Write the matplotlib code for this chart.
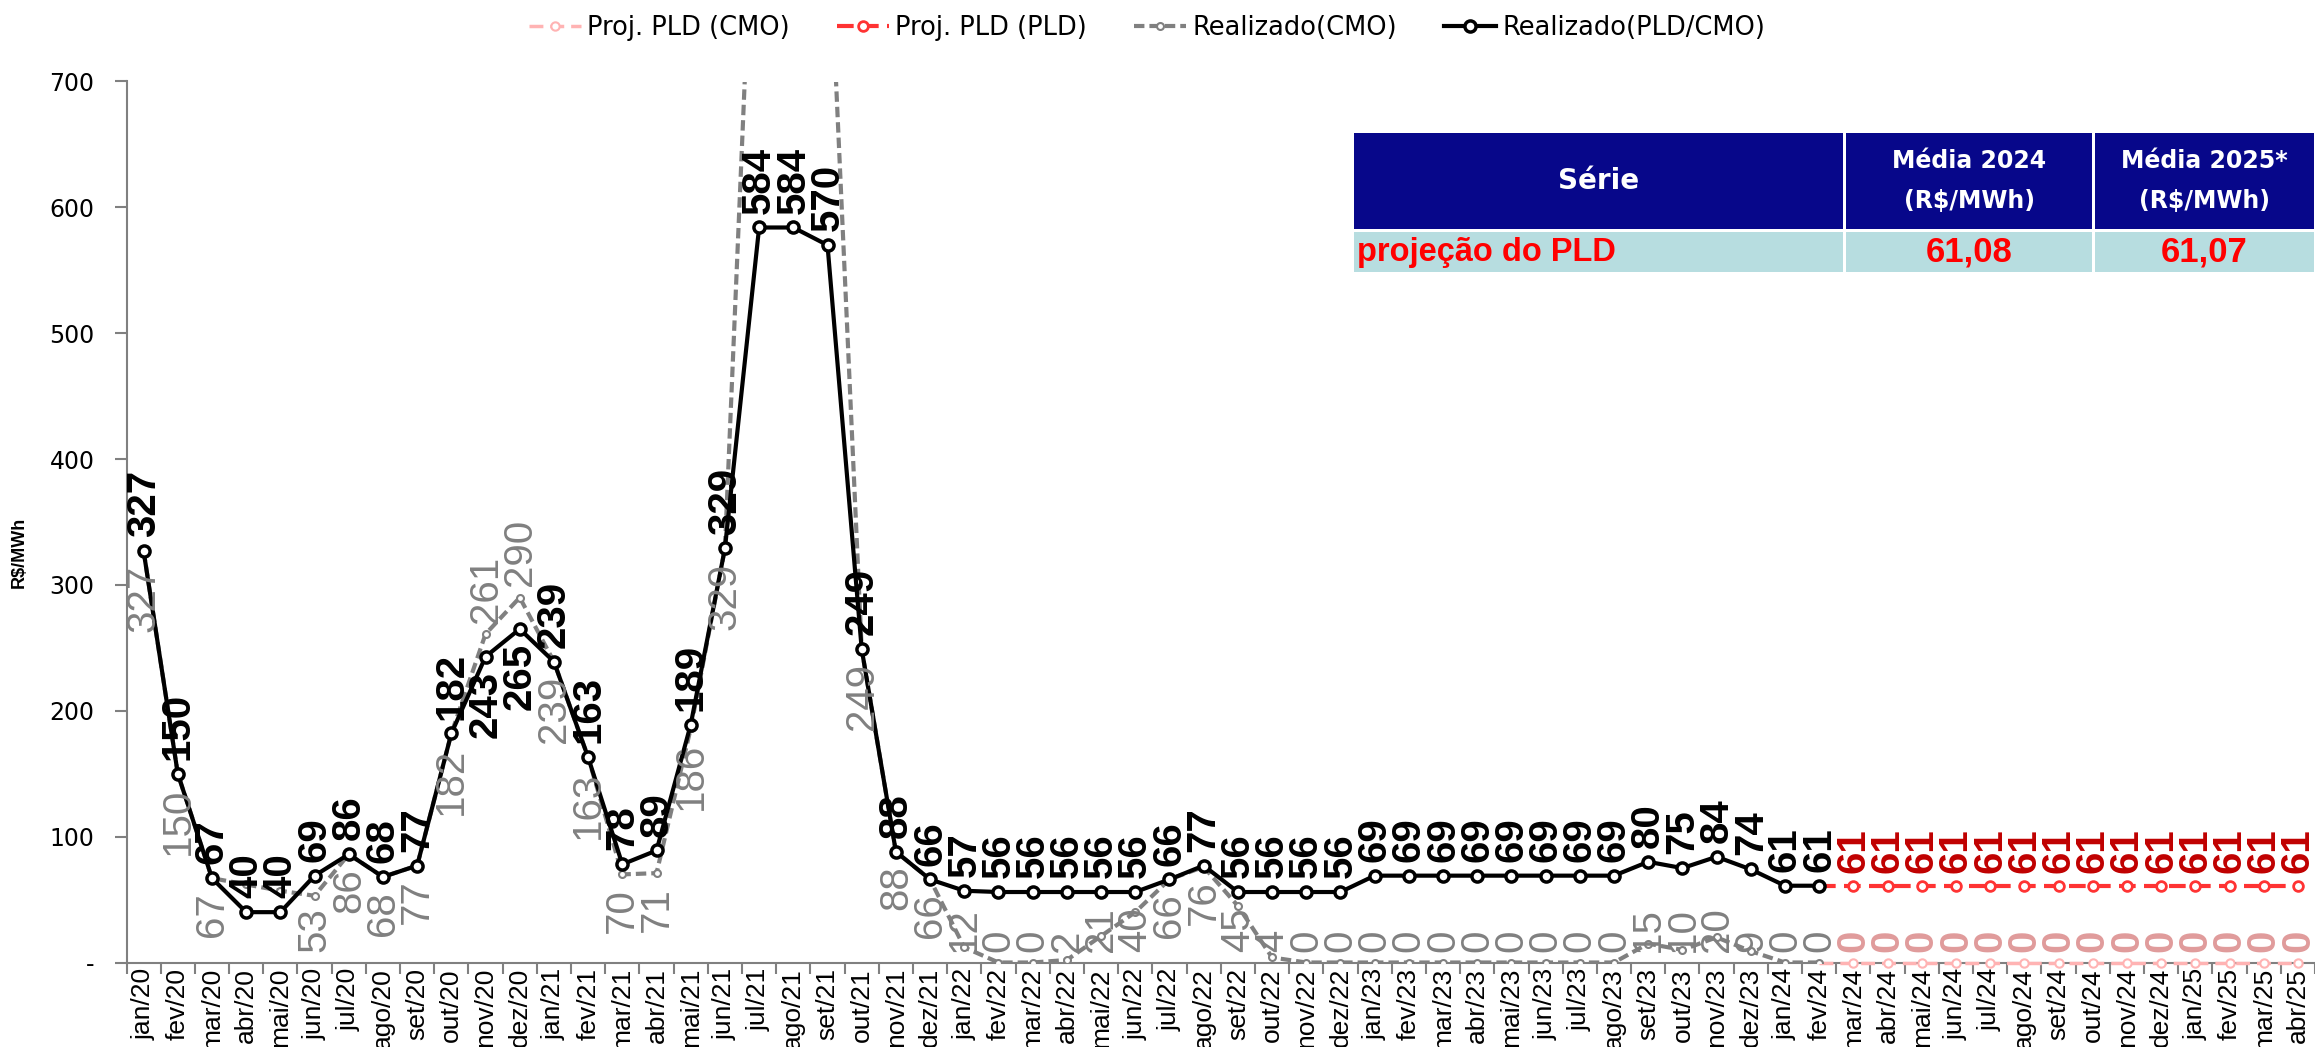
import matplotlib
matplotlib.use('Agg')
import matplotlib.pyplot as plt
from matplotlib import font_manager as fm
from matplotlib.patches import Rectangle

# ---------------- data ----------------
month_names = ["jan", "fev", "mar", "abr", "mai", "jun", "jul", "ago", "set", "out", "nov", "dez"]
categories = [f"{m}/{y}" for y in ["20", "21", "22", "23", "24", "25"] for m in month_names][:64]

realizado_pld = [327, 150, 67, 40, 40, 69, 86, 68, 77, 182, 243, 265,
                 239, 163, 78, 89, 189, 329, 584, 584, 570, 249, 88, 66,
                 57, 56, 56, 56, 56, 56, 66, 77, 56, 56, 56, 56,
                 69, 69, 69, 69, 69, 69, 69, 69, 80, 75, 84, 74,
                 61, 61]

realizado_cmo = [327, 150, 67, 62, 57, 53, 86, 68, 77, 182, 261, 290,
                 239, 163, 70, 71, 186, 329, 970, 1000, 850, 249, 88, 66,
                 12, 0, 0, 2, 21, 40, 66, 76, 45, 4, 0, 0,
                 0, 0, 0, 0, 0, 0, 0, 0, 15, 10, 20, 9,
                 0, 0]
# points whose CMO data label is not shown in the reference
cmo_hidden_labels = ["abr/20", "mai/20"]
# points whose labels sit on the opposite side of the marker
swapped_labels = ["nov/20", "dez/20"]

proj_pld = [61, 61, 61, 61, 61, 61, 61, 61, 61, 61, 61, 61, 61, 61]
proj_cmo = [0, 0, 0, 0, 0, 0, 0, 0, 0, 0, 0, 0, 0, 0]

table_header = ["Série", "Média 2024\n(R$/MWh)", "Média 2025*\n(R$/MWh)"]
table_row = ["projeção do PLD", "61,08", "61,07"]

series_names = ["Proj. PLD (CMO)", "Proj. PLD (PLD)", "Realizado(CMO)", "Realizado(PLD/CMO)"]

# ---------------- fonts ----------------
names = {f.name for f in fm.fontManager.ttflist}
NARROW = "Liberation Sans Narrow" if "Liberation Sans Narrow" in names else "Liberation Sans"
plt.rcParams['font.family'] = ['DejaVu Sans']

W, H = 2315, 1047
fig = plt.figure(figsize=(W / 100, H / 100), dpi=100)
ax = fig.add_axes([126.5 / W, (H - 962.5) / H, (W - 126.5) / W, (962.5 - 81.5) / H])

n_real = len(realizado_pld)
x_real = list(range(n_real))
x_proj = list(range(n_real - 1, n_real + len(proj_pld)))

GRAY = "#808080"
RED = "#FF3333"
PINK = "#FFB3B3"

l_pink, = ax.plot(x_proj, [realizado_cmo[-1]] + proj_cmo, color=PINK, lw=2.5, ls=(0, (4, 2)),
                  marker='o', ms=6, mfc='white', mec=PINK, mew=1.5, zorder=3, clip_on=False,
                  label=series_names[0])
l_red, = ax.plot(x_proj, [realizado_pld[-1]] + proj_pld, color=RED, lw=3, ls=(0, (4, 2)),
                 marker='o', ms=7, mfc='white', mec=RED, mew=2, zorder=3,
                 label=series_names[1])
l_gray, = ax.plot(x_real, realizado_cmo, color=GRAY, lw=3, ls=(0, (2.5, 1.2)),
                  marker='o', ms=5, mfc='white', mec=GRAY, mew=1.5, zorder=4, clip_on=True,
                  label=series_names[2])
l_black, = ax.plot(x_real, realizado_pld, color='black', lw=3, ls='-',
                   marker='o', ms=8, mfc='white', mec='black', mew=2.5, zorder=5,
                   label=series_names[3])
l_red.set_markevery(list(range(1, len(x_proj))))
l_pink.set_markevery(list(range(1, len(x_proj))))

ax.set_xlim(-0.5, len(categories) - 0.5)
ax.set_ylim(0, 700)
yt = list(range(0, 701, 100))
ax.set_yticks(yt)
ax.set_yticklabels(["-" if v == 0 else str(v) for v in yt])
ax.set_xticks(range(len(categories)))
ax.set_xticklabels(categories, rotation=90)
for t in ax.get_xticklabels():
    t.set_fontsize(19)
    t.set_family(NARROW)
for t in ax.get_yticklabels():
    t.set_fontsize(17)
ax.set_xticks([i - 0.5 for i in range(len(categories) + 1)], minor=True)
ax.tick_params(axis='x', which='major', length=0, pad=4)
ax.tick_params(axis='x', which='minor', length=8, width=1.5, color=GRAY, direction='out')
ax.tick_params(axis='y', which='major', length=9, width=1.5, color=GRAY, direction='out', pad=14)
for s in ['top', 'right']:
    ax.spines[s].set_visible(False)
for s in ['left', 'bottom']:
    ax.spines[s].set_color(GRAY)
    ax.spines[s].set_linewidth(1.5)
ax.set_ylabel("R$/MWh", fontsize=13, fontweight='bold', family=NARROW)
ax.yaxis.set_label_coords(-0.045, 0.465)

LBL = 29
below = []
for i, v in enumerate(realizado_pld):
    up = categories[i] not in swapped_labels
    ax.annotate(str(v), (i, v), xytext=(0, 10 if up else -10), textcoords='offset points',
                rotation=90, ha='center', va='bottom' if up else 'top', fontsize=LBL,
                fontweight='bold', family=NARROW, color='black', zorder=7)
for i, v in enumerate(realizado_cmo):
    if v > 700 or categories[i] in cmo_hidden_labels:
        continue
    down = categories[i] not in swapped_labels
    a = ax.annotate(str(v), (i, v), xytext=(0, -10 if down else 8), textcoords='offset points',
                    rotation=90, ha='center', va='top' if down else 'bottom', fontsize=LBL,
                    family=NARROW, color=GRAY, zorder=6)
    if down:
        below.append(a)
for j, v in enumerate(proj_pld):
    ax.annotate(str(v), (n_real + j, v), xytext=(0, 9), textcoords='offset points',
                rotation=90, ha='center', va='bottom', fontsize=LBL,
                fontweight='bold', family=NARROW, color='#C00000', zorder=7)
for j, v in enumerate(proj_cmo):
    below.append(ax.annotate(str(v), (n_real + j, v), xytext=(0, -10), textcoords='offset points',
                             rotation=90, ha='center', va='top', fontsize=LBL, fontweight='bold',
                             family=NARROW, color='#E09B9B', zorder=6))

# keep "below" labels inside the plot area (as the spreadsheet does)
fig.canvas.draw()
r = fig.canvas.get_renderer()
y_axis_px = ax.transData.transform((0, 0))[1]
for a in below:
    bb = a.get_window_extent(r)
    if bb.y0 < y_axis_px + 10:
        a.xy = (a.xy[0], 0)
        a.set_va('bottom')
        a.xyann = (0, 10 * 0.72)

# legend
fig.legend(handles=[l_pink, l_red, l_gray, l_black], labels=series_names, loc='upper center',
           bbox_to_anchor=(0.4955, 1.008), ncol=4, frameon=False, fontsize=18.5,
           handlelength=2.0, handletextpad=0.25, columnspacing=1.85)

# summary table
NAVY = "#07078A"
TEAL = "#B7DDE0"
col_edges = [1354, 1844, 2093, 2315]
hdr = (133, 229)
row = (232, 272)

def rect(x0, x1, y0, y1, c):
    fig.add_artist(Rectangle((x0 / W, 1 - y1 / H), (x1 - x0) / W, (y1 - y0) / H,
                             transform=fig.transFigure, facecolor=c, edgecolor='none', zorder=10))

for k in range(3):
    x0 = col_edges[k] + (2 if k else 0)
    x1 = col_edges[k + 1] - 1
    rect(x0, x1, hdr[0], hdr[1], NAVY)
    rect(x0, x1, row[0], row[1], TEAL)
    cx = (x0 + x1) / 2 / W
    fig.text(cx, 1 - (hdr[0] + hdr[1]) / 2 / H, table_header[k], ha='center', va='center',
             color='white', fontweight='bold', fontsize=20 if k == 0 else 17,
             linespacing=1.8, zorder=11)
    if k == 0:
        fig.text((x0 + 3) / W, 1 - (row[0] + row[1]) / 2 / H, table_row[k], ha='left', va='center',
                 color='#FF0000', fontweight='bold', fontsize=23.5, family='Liberation Sans', zorder=11)
    else:
        fig.text(cx, 1 - (row[0] + row[1]) / 2 / H, table_row[k], ha='center', va='center',
                 color='#FF0000', fontweight='bold', fontsize=25, family='Liberation Sans', zorder=11)

fig.savefig("out.png", dpi=100)
